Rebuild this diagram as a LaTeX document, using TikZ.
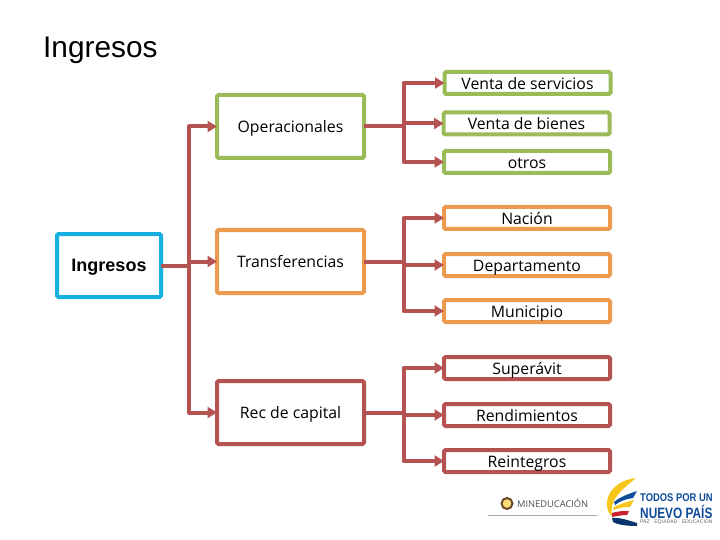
\documentclass[tikz,border=0pt]{standalone}
\usepackage{fontspec}
\setmainfont{Open Sans}
\newfontfamily\arialfont{Liberation Sans}
\usetikzlibrary{calc,arrows.meta,positioning}
\definecolor{linex}{HTML}{B55353}
\definecolor{greenx}{HTML}{9BBB59}
\definecolor{orangex}{HTML}{EB9A50}
\definecolor{bluex}{HTML}{17AEE0}
\definecolor{navyx}{HTML}{0F4C9A}
\definecolor{yellowx}{HTML}{F6C61B}
\definecolor{redflag}{HTML}{C8202F}
\definecolor{emblem}{HTML}{6B4A2F}
\tikzset{
  ar/.style={-{Triangle[length=9.5pt,width=11pt]},line width=4pt,linex,line join=round},
  ln/.style={line width=4pt,linex,line join=round},
  box/.style={draw=#1,line width=4pt,rounded corners=1.5pt,fill=white,outer sep=0pt,align=center,inner sep=0pt,text height=12.5pt,text depth=0pt},
  parentbox/.style={box=#1,minimum width=147pt,minimum height=63pt,font=\fontsize{15.8}{18}\selectfont},
  childbox/.style={box=#1,minimum width=166pt,minimum height=22pt,font=\fontsize{15.8}{18}\selectfont}
}
\newcommand{\family}[5]{%
  \draw[ln] (#1.east) -- (#2);
  \draw[ar] (#2) |- (#3.west);
  \draw[ar] (#2 |- #4.west) -- (#4.west);
  \draw[ar] (#2) |- (#5.west);}
\begin{document}
\begin{tikzpicture}[x=1pt,y=-1pt]
\useasboundingbox (0,0) rectangle (720,540);
\node[font=\arialfont\fontsize{29.8}{32}\selectfont,anchor=base west,inner sep=0pt] (title) at (43,58) {Ingresos};

\node[box=bluex,minimum width=104pt,minimum height=63pt,font=\arialfont\bfseries\fontsize{18}{20}\selectfont] (ingresos) at (109,265.5) {Ingresos};
\node[parentbox=greenx] (oper) at (290.5,126.5) {Operacionales};
\node[parentbox=orangex] (trans) at (290.5,261.5) {Transferencias};
\node[parentbox=linex] (rec) at (290.5,412.5) {Rec de capital};

\node[childbox=greenx] (servicios) at (527.5,83) {Venta de servicios};
\node[childbox=greenx] (bienes) at (526.5,123.5) {Venta de bienes};
\node[childbox=greenx] (otros) at (527,162) {otros};
\node[childbox=orangex] (nacion) at (527,218) {Nación};
\node[childbox=orangex] (depto) at (527,265) {Departamento};
\node[childbox=orangex] (muni) at (527,311) {Municipio};
\node[childbox=linex] (superavit) at (527,368) {Superávit};
\node[childbox=linex] (rendim) at (527,415) {Rendimientos};
\node[childbox=linex] (reint) at (527,461) {Reintegros};

\coordinate (busa) at (189,265.5);
\coordinate (busb) at (403.5,126.5);
\coordinate (busc) at (403.5,261.5);
\coordinate (busd) at (403.5,412.5);

\draw[ln] (ingresos.east) -- (busa);
\draw[ar] (busa) |- (oper.west);
\draw[ar] (busa |- trans.west) -- (trans.west);
\draw[ar] (busa) |- (rec.west);
\family{oper}{busb}{servicios}{bienes}{otros}
\family{trans}{busc}{nacion}{depto}{muni}
\family{rec}{busd}{superavit}{rendim}{reint}

\node[circle,draw=emblem,line width=2pt,fill=yellowx!60!white,minimum size=11pt,inner sep=0pt] (escudo) at (507,503.5) {};
\node[anchor=west,inner sep=0pt,text=black!70,font=\fontsize{9.3}{10}\selectfont] (mined) at (517,503.5) {MINEDUCACIÓN};
\draw[black!35,line width=0.6pt] (488,515.5) -- (597,515.5);

\fill[yellowx] (636,478) .. controls (618,480) and (606,492) .. (607,505) .. controls (607,510) and (609,514) .. (612,516) .. controls (611,508) and (612,502) .. (617,496) .. controls (622,489) and (630,483) .. (636,478) -- cycle;
\fill[navyx] (614,502) .. controls (620,497) and (628,494) .. (637,491) -- (633,498) .. controls (626,499) and (620,501) .. (615,505) -- cycle;
\fill[yellowx] (614,507) .. controls (620,504) and (626,502) .. (634,500) -- (630,507) .. controls (624,507) and (619,508) .. (613,510) -- cycle;
\fill[redflag] (612,513) .. controls (618,511) and (624,511) .. (629,511) -- (627,515) .. controls (622,515) and (617,516) .. (612,517) -- cycle;
\fill[navyx!70!black] (612,518) .. controls (620,517) and (630,521) .. (637,523) -- (637,526) .. controls (628,526) and (618,525) .. (613,522) -- cycle;
\node[anchor=west,inner sep=0pt,text=navyx,font=\arialfont\bfseries\fontsize{11.2}{13}\selectfont] (todos) at (640,498) {\scalebox{0.84}[1]{TODOS POR UN}};
\node[anchor=west,inner sep=0pt,text=navyx,font=\arialfont\bfseries\fontsize{15}{16}\selectfont] (nuevo) at (640,511.5) {\scalebox{0.79}[1]{NUEVO PAÍS}};
\node[anchor=west,inner sep=0pt,text=black!60,font=\arialfont\fontsize{5.1}{6}\selectfont] (paz) at (640,522) {PAZ · EQUIDAD · EDUCACIÓN};
\end{tikzpicture}
\end{document}
